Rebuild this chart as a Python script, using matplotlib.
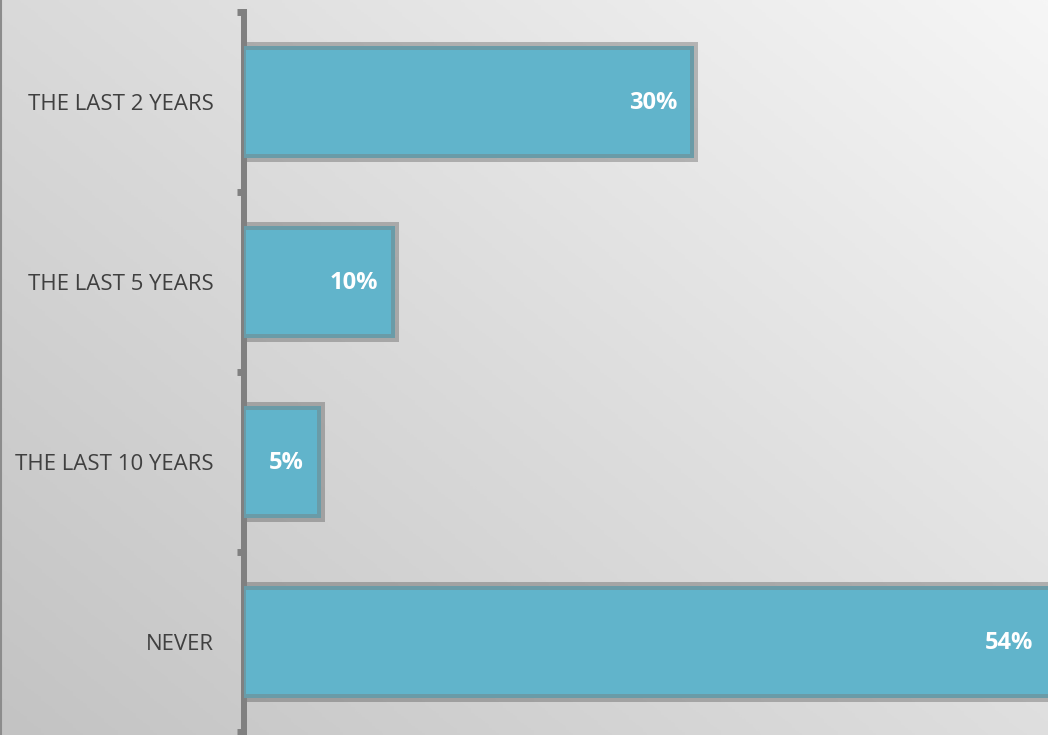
import numpy as np
import matplotlib.pyplot as plt
from matplotlib.colors import LinearSegmentedColormap

# Survey answers, top to bottom
categories = ['THE LAST 2 YEARS', 'THE LAST 5 YEARS', 'THE LAST 10 YEARS', 'NEVER']
values = [30, 10, 5, 54]
labels = ['30%', '10%', '5%', '54%']

plt.rcParams['font.family'] = ['Open Sans', 'DejaVu Sans']

W, H, DPI = 1048, 735, 100
fig = plt.figure(figsize=(W / DPI, H / DPI), dpi=DPI)

# diagonal grey gradient behind everything
bg = fig.add_axes([0, 0, 1, 1], zorder=0)
gx, gy = np.meshgrid(np.linspace(0, 1, 300), np.linspace(0, 1, 300))
grad = (gx * 0.55 + gy * 0.45)
cmap = LinearSegmentedColormap.from_list('bg', ['#c3c3c3', '#dcdcdc', '#f6f6f6'])
bg.imshow(grad, cmap=cmap, origin='lower', extent=[0, 1, 0, 1], aspect='auto')
bg.axvline(0.0005, color='#8c8c8c', lw=1.5)
bg.set_xlim(0, 1)
bg.set_ylim(0, 1)
bg.axis('off')

ax = fig.add_axes([244 / W, 3 / H, (W - 244) / W, 720 / H], zorder=1)
ax.patch.set_alpha(0)

n = len(categories)
pos = np.arange(n)[::-1]
h = 0.6
px = 72 / DPI  # points per pixel

# soft grey frame, darker teal rim, then the fill
ax.barh(pos, values, height=h, color='none', edgecolor=(0, 0, 0, 0.23),
        linewidth=12 * px, zorder=2)
ax.barh(pos, values, height=h, color='#61b4cb', edgecolor='#6a9ba7',
        linewidth=4 * px, zorder=3)

for p, v, lab in zip(pos, values, labels):
    ax.annotate(lab, (min(v, 53.8), p), xytext=(-11, -1), textcoords='offset points',
                ha='right', va='center', color='white', fontsize=17,
                fontweight='bold', zorder=4)

ax.set_xlim(0, 53.8)
ax.set_ylim(-0.5, n - 0.5)

ax.set_yticks(pos)
ax.set_yticklabels(categories, fontsize=16, color='#404040')
ax.tick_params(axis='y', which='major', length=0, pad=22)
ax.set_yticks(np.arange(-0.5, n, 1.0), minor=True)
ax.tick_params(axis='y', which='minor', length=5, width=5, color='#808080')
ax.set_xticks([])

for s in ['top', 'right', 'bottom']:
    ax.spines[s].set_visible(False)
ax.spines['left'].set_color('#808080')
ax.spines['left'].set_linewidth(6 * px)
ax.spines['left'].set_bounds(-0.52, n - 0.5)

fig.savefig('out.png', dpi=DPI)
